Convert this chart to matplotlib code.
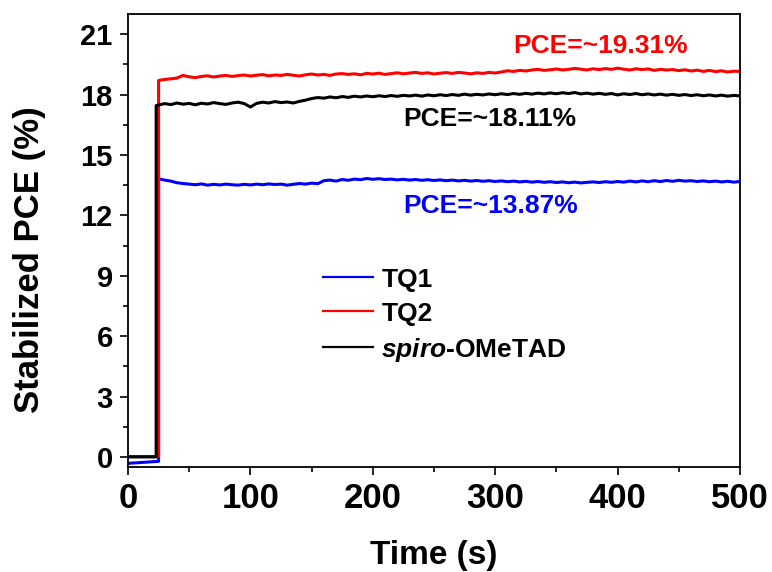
import numpy as np
import matplotlib
matplotlib.use("Agg")
import matplotlib.pyplot as plt
from matplotlib.ticker import MultipleLocator

plt.rcParams["font.family"] = ["Liberation Sans", "DejaVu Sans"]
plt.rcParams["font.weight"] = "bold"
plt.rcParams["mathtext.fontset"] = "custom"
plt.rcParams["mathtext.it"] = "Liberation Sans:italic:bold"
plt.rcParams["mathtext.rm"] = "Liberation Sans:bold"

# ---------------------------------------------------------------------------
# Data (5 s sampling after light-on)
# ---------------------------------------------------------------------------

time = np.arange(25, 501, 5)          # plateau sampling grid (s)

labels = ["TQ1", "TQ2", r"$\mathit{spiro}$-OMeTAD"]
colors = ["#0000ff", "#ff0000", "#000000"]
light_on = [25, 25, 23]               # time of the step (s)
pre_step = [[-0.32, -0.22], [0.02, 0.02], [0.0, 0.0]]

tq1 = [13.82, 13.75, 13.70, 13.62, 13.58, 13.55, 13.52, 13.56, 13.50, 13.54, 13.51, 13.55,
       13.52, 13.50, 13.54, 13.51, 13.55, 13.52, 13.56, 13.53, 13.55, 13.50, 13.54, 13.58,
       13.55, 13.60, 13.57, 13.72, 13.75, 13.70, 13.78, 13.74, 13.80, 13.77, 13.83, 13.79,
       13.82, 13.78, 13.80, 13.76, 13.79, 13.75, 13.78, 13.74, 13.77, 13.73, 13.76, 13.72,
       13.75, 13.71, 13.74, 13.70, 13.73, 13.69, 13.72, 13.68, 13.71, 13.67, 13.70, 13.66,
       13.69, 13.65, 13.68, 13.64, 13.67, 13.63, 13.66, 13.62, 13.65, 13.61, 13.64, 13.66,
       13.63, 13.67, 13.64, 13.68, 13.65, 13.70, 13.66, 13.71, 13.67, 13.72, 13.68, 13.73,
       13.69, 13.74, 13.70, 13.72, 13.68, 13.71, 13.67, 13.70, 13.66, 13.69, 13.65, 13.68]

tq2 = [18.70, 18.75, 18.78, 18.82, 18.95, 18.88, 18.84, 18.90, 18.93, 18.87, 18.92, 18.95,
       18.90, 18.94, 18.97, 18.92, 18.96, 18.99, 18.93, 18.97, 18.95, 19.00, 18.96, 18.92,
       18.98, 19.02, 18.97, 19.00, 18.95, 19.02, 19.04, 19.00, 19.03, 18.98, 19.05, 19.02,
       19.06, 19.00, 19.04, 19.08, 19.03, 19.07, 19.10, 19.05, 19.08, 19.02, 19.06, 19.09,
       19.05, 19.10, 19.07, 19.03, 19.08, 19.05, 19.10, 19.07, 19.12, 19.18, 19.15, 19.20,
       19.17, 19.22, 19.25, 19.20, 19.23, 19.27, 19.22, 19.25, 19.30, 19.26, 19.22, 19.28,
       19.24, 19.29, 19.25, 19.31, 19.26, 19.22, 19.28, 19.24, 19.27, 19.20, 19.25, 19.22,
       19.24, 19.19, 19.23, 19.17, 19.21, 19.15, 19.20, 19.14, 19.18, 19.12, 19.16, 19.15]

spiro = [17.45, 17.55, 17.50, 17.58, 17.52, 17.56, 17.49, 17.57, 17.53, 17.60, 17.55, 17.51,
         17.58, 17.62, 17.55, 17.38, 17.56, 17.62, 17.58, 17.65, 17.60, 17.63, 17.58, 17.66,
         17.72, 17.80, 17.85, 17.82, 17.88, 17.84, 17.90, 17.86, 17.92, 17.88, 17.93, 17.89,
         17.94, 17.90, 17.95, 17.91, 17.96, 17.93, 17.97, 17.92, 17.98, 17.94, 17.99, 17.95,
         18.00, 17.96, 18.02, 17.97, 18.01, 17.98, 18.03, 17.99, 18.04, 18.00, 18.05, 18.01,
         18.06, 18.02, 18.07, 18.03, 18.08, 18.04, 18.09, 18.05, 18.10, 18.03, 18.07, 18.02,
         18.06, 18.01, 18.05, 17.98, 18.04, 18.00, 18.05, 17.99, 18.03, 17.98, 18.02, 17.97,
         18.01, 17.96, 18.00, 17.95, 17.99, 17.94, 17.98, 17.93, 17.97, 17.92, 17.96, 17.93]

series = [tq1, tq2, spiro]

notes = ["PCE=~13.87%", "PCE=~19.31%", "PCE=~18.11%"]
note_pos = [(296, 12.48), (386, 20.4), (296, 16.77)]

# ---------------------------------------------------------------------------
# Plot
# ---------------------------------------------------------------------------

fig = plt.figure(figsize=(7.72, 5.72), dpi=100)
ax = fig.add_axes([0.1658, 0.1836, 0.7927, 0.7919])

for lab, col, t_on, pre, vals in zip(labels, colors, light_on, pre_step, series):
    x = np.concatenate([[0, t_on, t_on], time[1:]])
    y = np.concatenate([pre, vals])
    ax.plot(x, y, color=col, linewidth=2.2, label=lab)

for txt, col, (tx, ty) in zip(notes, colors, note_pos):
    ax.text(tx, ty, txt, color=col, fontsize=19, fontweight="bold",
            ha="center", va="center")

ax.set_xlim(0, 500)
ax.set_ylim(-0.5, 22)
ax.xaxis.set_major_locator(MultipleLocator(100))
ax.xaxis.set_minor_locator(MultipleLocator(50))
ax.yaxis.set_major_locator(MultipleLocator(3))
ax.yaxis.set_minor_locator(MultipleLocator(1.5))

ax.tick_params(which="major", direction="out", length=6, width=1.2, pad=5)
ax.tick_params(which="minor", direction="out", length=3.5, width=1.2)
for lbl in ax.get_xticklabels():
    lbl.set_fontsize(25)
    lbl.set_fontweight("bold")
for lbl in ax.get_yticklabels():
    lbl.set_fontsize(21)
    lbl.set_fontweight("bold")
for sp in ax.spines.values():
    sp.set_linewidth(1.3)

ax.set_xlabel("Time (s)", fontsize=24, fontweight="bold", labelpad=18)
ax.set_ylabel("Stabilized PCE (%)", fontsize=25, fontweight="bold")
ax.yaxis.set_label_coords(-0.134, 0.458)

leg = ax.legend(loc="upper left", bbox_to_anchor=(0.319, 0.44), frameon=False,
                prop={"size": 19, "weight": "bold"}, handlelength=1.9,
                handletextpad=0.3, labelspacing=0.38, borderaxespad=0, borderpad=0)
for line in leg.get_lines():
    line.set_linewidth(1.6)

fig.savefig("out.png", dpi=100)
